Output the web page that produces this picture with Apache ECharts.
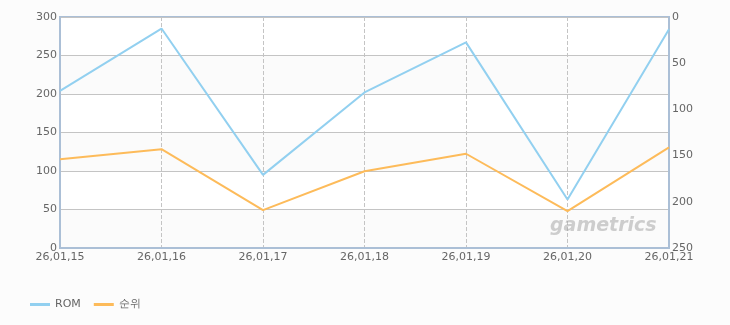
<!DOCTYPE html>
<html><head><meta charset="utf-8">
<script src="https://cdn.jsdelivr.net/npm/echarts@6/dist/echarts.min.js"></script>
<style>html,body{margin:0;padding:0;background:#fcfcfc;}#c{width:730px;height:325px;}</style>
</head><body><div id="c"></div>
<script>
const categories = ['26,01,15','26,01,16','26,01,17','26,01,18','26,01,19','26,01,20','26,01,21'];
const romValues = [204, 285, 95, 202, 267, 63, 284];
const rankValues = [154, 143, 209, 167, 148, 210, 141];
const chart = echarts.init(document.getElementById('c'));
const axisLine = {show:true, lineStyle:{color:'#abbfd6', width:2}};
const labelStyle = {color:'#666', fontSize:11, fontFamily:'DejaVu Sans'};
chart.setOption({
  backgroundColor:'#fcfcfc',
  animation:false,
  grid:{left:60, right:61, top:17, bottom:77, show:true, backgroundColor:'#ffffff', borderColor:'#abbfd6', borderWidth:2},
  legend:{left:25, top:294, itemWidth:20, itemHeight:3, itemGap:13,
    textStyle:{color:'#666', fontSize:11, fontFamily:'DejaVu Sans'},
    data:[{name:'ROM', icon:'rect'},{name:'순위', icon:'rect'}]},
  xAxis:{type:'category', data:categories, boundaryGap:false,
    axisLine:axisLine, axisTick:{show:false},
    axisLabel:Object.assign({margin:4, showMinLabel:true, showMaxLabel:true, interval:0}, labelStyle),
    splitLine:{show:true, lineStyle:{color:'#c4c4c4', type:'dashed', width:1}}},
  yAxis:[
    {type:'value', min:0, max:300, interval:50, position:'left',
      axisLine:axisLine, axisTick:{show:false}, axisLabel:Object.assign({margin:3}, labelStyle),
      splitLine:{show:true, lineStyle:{color:'#c4c4c4', width:1}},
      splitArea:{show:true, areaStyle:{color:['#fbfbfb','#ffffff']}}},
    {type:'value', min:0, max:250, interval:50, inverse:true, position:'right',
      axisLine:axisLine, axisTick:{show:false}, axisLabel:Object.assign({margin:3}, labelStyle),
      splitLine:{show:false}}
  ],
  graphic:[{type:'text', x:550, y:217, z:100, style:{text:'gametrics', fill:'rgba(160,160,160,0.5)', font:'italic bold 19px "DejaVu Sans"'}}],
  series:[
    {name:'ROM', type:'line', data:romValues, yAxisIndex:0, symbol:'none', lineStyle:{color:'#92d0f0', width:2}, itemStyle:{color:'#92d0f0'}},
    {name:'순위', type:'line', data:rankValues, yAxisIndex:1, symbol:'none', lineStyle:{color:'#fdbb5a', width:2}, itemStyle:{color:'#fdbb5a'}}
  ]
});
</script></body></html>
